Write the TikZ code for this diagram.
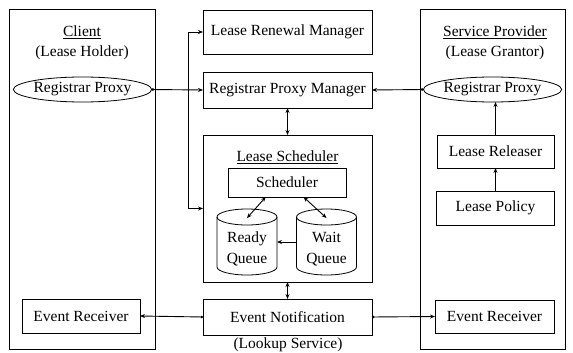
\documentclass[tikz,border=0pt]{standalone}
\usepackage{fontspec}
\setmainfont{Liberation Serif}
\usetikzlibrary{arrows.meta,shapes.geometric,calc}
\begin{document}
\begin{tikzpicture}[x=1pt,y=-1pt,
  every node/.style={font=\fontsize{15.5}{21}\selectfont},
  box/.style={draw,line width=0.8pt,inner sep=0pt,outer sep=0pt},
  oval/.style={draw,ellipse,line width=0.8pt,inner sep=0pt,outer sep=0pt},
  cylarea/.style={inner sep=0pt,outer sep=0pt,minimum width=60pt,minimum height=66pt},
  cylline/.style={line width=0.8pt},
  txt/.style={inner sep=0pt,align=center},
  con/.style={line width=0.9pt},
  one/.style={con,{Circle[length=2.5pt]}-{Stealth[length=5pt,width=4pt]}},
  two/.style={con,{Stealth[length=5pt,width=4pt]}-{Stealth[length=5pt,width=4pt]}}
]
\useasboundingbox (0,0) rectangle (573,353);
% outer boxes
\node[box,minimum width=146pt,minimum height=340pt] (client) at (82,179) {};
\node[box,minimum width=145pt,minimum height=340pt] (sp) at (492.5,179) {};
% titles
\node[txt] (ct) at (82,32) {\underline{Client}};
\node[txt] (ch) at (82,53) {(Lease Holder)};
\node[txt] (st) at (495,32) {\underline{Service Provider}};
\node[txt] (sg) at (495,53) {(Lease Grantor)};
% middle column
\node[box,minimum width=169pt,minimum height=44pt] (lrm) at (287.5,32) {Lease Renewal Manager};
\node[box,minimum width=169pt,minimum height=36pt] (rpm) at (287.5,90) {Registrar Proxy Manager};
\node[box,minimum width=169pt,minimum height=147pt] (ls) at (287.5,208.5) {};
\node[txt] (lst) at (287.5,157) {\underline{Lease Scheduler}};
\node[box,minimum width=118pt,minimum height=29pt] (sch) at (287,182.5) {Scheduler};
% queues (cylinders)
\node[cylarea] (rq) at (247,242) {};
\node[cylarea] (wq) at (326.5,242) {};
\foreach \q in {rq,wq}{
  \draw[cylline] ([yshift=-8pt]\q.north west) -- ([yshift=8pt]\q.south west)
     arc[start angle=180,end angle=360,x radius=30pt,y radius=8pt]
     -- ([yshift=-8pt]\q.north east);
  \draw[cylline] ([yshift=-8pt]\q.north) ellipse[x radius=30pt,y radius=8pt];
}
\node[txt] (rqt) at (247,249) {Ready\\Queue};
\node[txt] (wqt) at (326.5,249) {Wait\\Queue};
\node[box,minimum width=169pt,minimum height=36pt] (en) at (287.5,317) {Event Notification};
\node[txt] (lk) at (288,345) {(Lookup Service)};
% client side
\node[oval,minimum width=125pt,minimum height=25pt] (crp) at (82.5,89.5) {Registrar Proxy};
\node[box,minimum width=118pt,minimum height=34pt] (cer) at (81,316) {Event Receiver};
% provider side
\node[oval,minimum width=119pt,minimum height=25pt] (srp) at (492.5,89.5) {Registrar Proxy};
\node[box,minimum width=117pt,minimum height=33pt] (lr) at (495.5,151.5) {Lease Releaser};
\node[box,minimum width=118pt,minimum height=34pt] (lp) at (495.5,208) {Lease Policy};
\node[box,minimum width=119pt,minimum height=33pt] (ser) at (494.5,316.5) {Event Receiver};
% bus
\coordinate (bt) at (188,32);
\coordinate (bb) at (188,208.5);
\draw[two] (lrm.west) -- (bt) -- (bb) -- (ls.west);
% connectors
\draw[one] (crp.east) -- (rpm.west);
\draw[one] (srp.west) -- (rpm.east);
\draw[two] (rpm.south) -- (ls.north);
\draw[two] (ls.south) -- (en.north);
\draw[two] ($(sch.south west)!0.32!(sch.south east)$) -- ([yshift=24pt]rq.center);
\draw[two] ($(sch.south west)!0.64!(sch.south east)$) -- ([yshift=24pt]wq.center);
\draw[con,-{Stealth[length=5pt,width=4pt]}] (wq.west) -- (rq.east);
\draw[con,-{Stealth[length=5pt,width=4pt]}] (lp.north) -- (lr.south);
\draw[con,-{Stealth[length=5pt,width=4pt]}] (lr.north) -- (lr.north |- srp.south);
\draw[one] (en.west) -- (cer.east);
\draw[one] (en.east) -- (ser.west);
\end{tikzpicture}
\end{document}
